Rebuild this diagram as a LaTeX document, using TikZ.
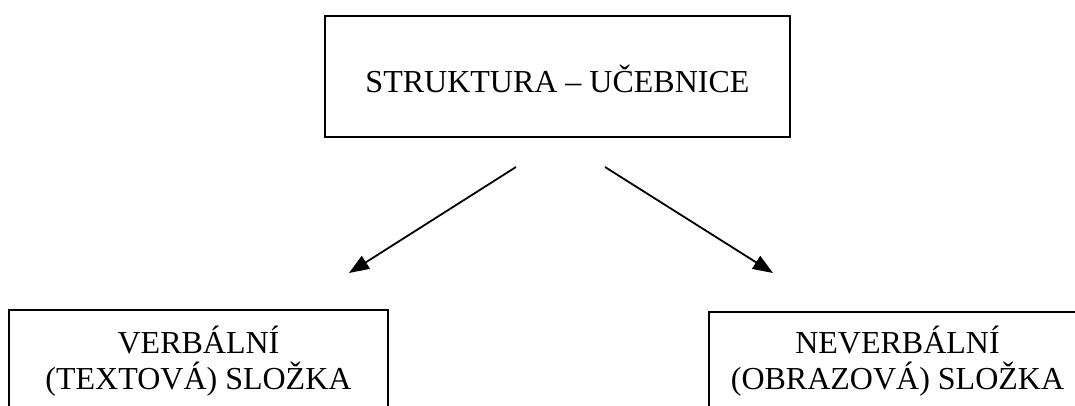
\documentclass[tikz,border=0pt]{standalone}
\usepackage{fontspec}
\setmainfont{Liberation Serif}
\usetikzlibrary{arrows.meta}
\begin{document}
\begin{tikzpicture}[x=1pt,y=-1pt,
  box/.style={draw=black, line width=1.5pt, inner sep=0pt, align=center,
    font=\fontsize{32}{36}\selectfont},
  arr/.style={line width=1.8pt, -{Triangle[length=20pt,width=15pt]}}]
\useasboundingbox (0,0) rectangle (1075,406);
\clip (0,0) rectangle (1075,406);

\node[box, minimum width=465pt, minimum height=121pt, text height=33pt, text depth=0pt]
  (struct) at (557.5,76.5) {STRUKTURA -- UČEBNICE};

\node[box, anchor=base, minimum width=379pt, text height=79pt, text depth=60pt]
  (verbal) at (198.5,389) {VERBÁLNÍ\\(TEXTOVÁ) SLOŽKA};
\node[box, anchor=base, minimum width=377pt, text height=77pt, text depth=60pt]
  (nonverbal) at (897.5,389) {NEVERBÁLNÍ\\(OBRAZOVÁ) SLOŽKA};

\coordinate (vs) at (516,167);
\coordinate (ve) at (349,273);
\coordinate (ns) at (605,167);
\coordinate (ne) at (773,273);
\draw[arr] (vs) -- (ve);
\draw[arr] (ns) -- (ne);
\end{tikzpicture}
\end{document}
